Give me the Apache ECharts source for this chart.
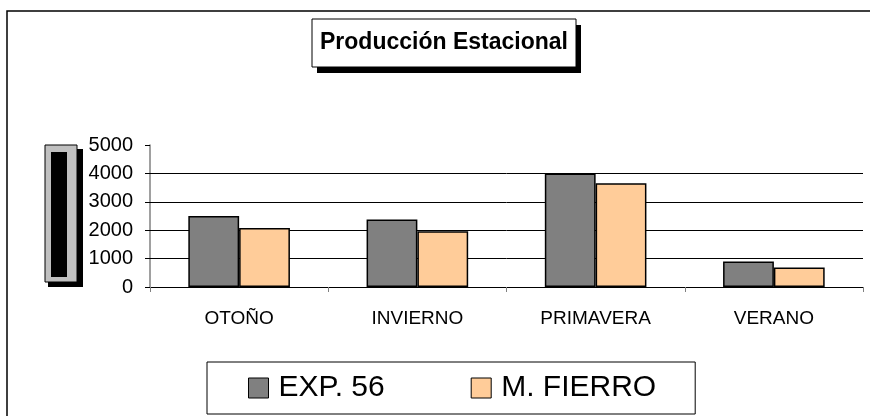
<!DOCTYPE html>
<html>
<head>
<meta charset="utf-8">
<script src="https://cdn.jsdelivr.net/npm/echarts@6.0.0/dist/echarts.min.js"></script>
<style>
  html, body { margin: 0; padding: 0; background: #fff; }
  #chart { width: 870px; height: 416px; }
</style>
</head>
<body>
<div id="chart"></div>
<script>
// estaciones y produccion
var seasons = ['OTOÑO', 'INVIERNO', 'PRIMAVERA', 'VERANO'];
var exp56 = [2500, 2380, 4000, 900];
var mFierro = [2080, 1960, 3650, 690];
var gridValues = [1000, 2000, 3000, 4000];

var font = "'Liberation Sans', Arial, sans-serif";
var chart = echarts.init(document.getElementById('chart'));

var option = {
    backgroundColor: '#fff',
    animation: false,
    textStyle: { fontFamily: font, color: '#000' },
    grid: { left: 150, right: 7, top: 145, bottom: 129 },
    graphic: [
        // marco exterior
        { type: 'rect', shape: { x: 7, y: 11, width: 900, height: 500 },
          style: { fill: 'none', stroke: '#000', lineWidth: 1.5 } },
        // caja del titulo con sombra
        { type: 'rect', shape: { x: 317, y: 25, width: 264, height: 48 },
          style: { fill: '#000' } },
        { type: 'rect', shape: { x: 312, y: 19, width: 264, height: 48 },
          style: { fill: '#fff', stroke: '#000', lineWidth: 1 } },
        { type: 'text', x: 444, y: 43,
          style: { text: 'Producción Estacional', fill: '#000', align: 'center', verticalAlign: 'middle',
                   font: 'bold 23px ' + font } },
        // titulo del eje (caja)
        { type: 'rect', shape: { x: 48, y: 149, width: 35, height: 138 },
          style: { fill: '#000' } },
        { type: 'rect', shape: { x: 45, y: 145, width: 32, height: 137 },
          style: { fill: '#c0c0c0', stroke: '#000', lineWidth: 1 } },
        { type: 'rect', shape: { x: 51, y: 152, width: 16, height: 125 },
          style: { fill: '#000' } }
    ],
    legend: {
        data: ['EXP. 56', 'M. FIERRO'],
        left: 207,
        top: 362,
        padding: [11, 39, 11, 41],
        itemWidth: 20,
        itemHeight: 20,
        itemGap: 86,
        icon: 'rect',
        backgroundColor: '#fff',
        borderColor: '#000',
        borderWidth: 1,
        itemStyle: { borderColor: '#000', borderWidth: 1 },
        textStyle: { fontSize: 30, fontFamily: font, color: '#000', padding: [0, 0, 0, 5] }
    },
    xAxis: {
        type: 'category',
        data: seasons,
        axisLine: { lineStyle: { color: '#000', width: 1 } },
        axisTick: { show: true, length: 5, lineStyle: { color: '#808080' } },
        axisLabel: { fontSize: 19, fontFamily: font, color: '#000', margin: 22 },
        splitLine: { show: false }
    },
    yAxis: {
        type: 'value',
        min: 0,
        max: 5000,
        interval: 1000,
        axisLine: { show: true, lineStyle: { color: '#808080', width: 1.5 } },
        axisTick: { show: true, length: 5, lineStyle: { color: '#000' } },
        axisLabel: { fontSize: 20, fontFamily: font, color: '#000', margin: 17,
                     formatter: function (v) { return String(v); } },
        splitLine: { show: false }
    },
    series: [
        {
            name: 'EXP. 56',
            type: 'bar',
            data: exp56,
            barGap: '0%',
            barCategoryGap: '43%',
            itemStyle: { color: '#808080', borderColor: '#000', borderWidth: 1.5 },
            markLine: {
                silent: true,
                z: 1,
                symbol: 'none',
                label: { show: false },
                lineStyle: { color: '#000', type: 'solid', width: 1 },
                data: gridValues.map(function (v) { return { yAxis: v }; })
            }
        },
        {
            name: 'M. FIERRO',
            type: 'bar',
            data: mFierro,
            itemStyle: { color: '#FFCC99', borderColor: '#000', borderWidth: 1.5 }
        }
    ]
};
chart.setOption(option);
</script>
</body>
</html>
